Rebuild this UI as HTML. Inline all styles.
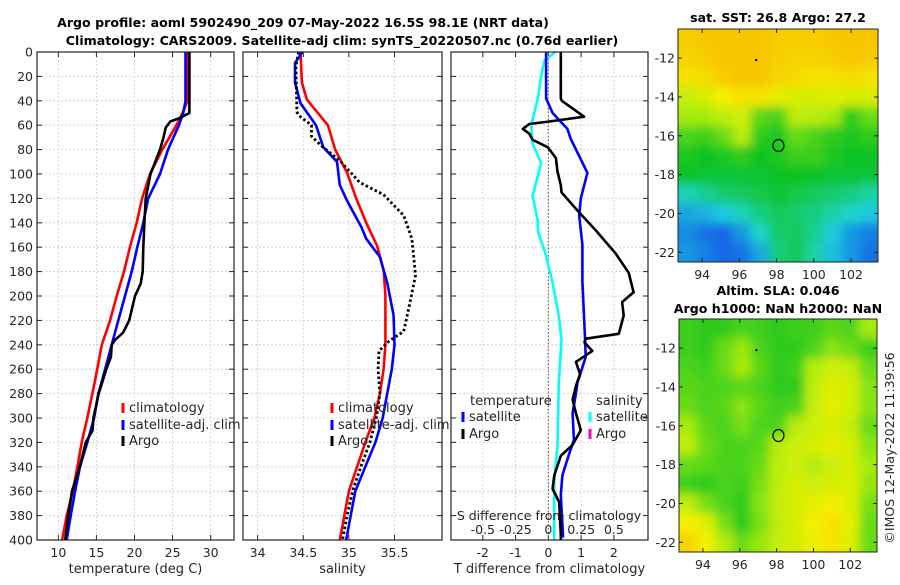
<!DOCTYPE html>
<html><head><meta charset="utf-8"><style>
body{margin:0;background:#fff;}
svg text{font-family:"DejaVu Sans","Liberation Sans",sans-serif;fill:#262626;}
.tk{font-size:12.5px;}
.ttl{font-size:12.6px;font-weight:bold;fill:#000;}
.lg{font-size:13px;}
</style></head><body>
<svg id="fig" xmlns="http://www.w3.org/2000/svg" width="900" height="580" viewBox="0 0 900 580">
<rect width="900" height="580" fill="#fff"/>
<text class="ttl" x="303" y="27" text-anchor="middle">Argo profile: aoml 5902490_209 07-May-2022 16.5S 98.1E (NRT data)</text>
<text class="ttl" x="342" y="45" text-anchor="middle">Climatology: CARS2009. Satellite-adj clim: synTS_20220507.nc (0.76d earlier)</text>
<text class="ttl" x="778" y="22" text-anchor="middle">sat. SST: 26.8 Argo: 27.2</text>
<text class="ttl" x="778" y="295" text-anchor="middle">Altim. SLA: 0.046</text>
<text class="ttl" x="778" y="313" text-anchor="middle">Argo h1000: NaN h2000: NaN</text>
<text class="tk" transform="translate(894,448) rotate(-90)" text-anchor="middle">©IMOS 12-May-2022 11:39:56</text>
<g id="g"></g>
</svg>
<script>
// ---------- data ----------
const tArgoDepth=[0,50,54,57,62,70,80,100,120,140,160,180,190,200,220,230,236,240,250,260,280,300,310,320,340,360,380,400];
const tArgoVal=[27.2,27.2,26.0,24.7,24.1,23.8,23.35,22.1,21.47,21.3,21.16,21.08,20.8,20.07,19.3,18.5,17.45,17.0,16.9,16.3,15.3,14.6,14.5,13.6,12.8,11.8,11.3,10.9];
const tClimDepth=[0,40,50,60,80,100,120,140,160,180,200,220,240,270,300,320,340,360,380,400];
const tClimVal=[26.98,26.97,26.3,25.5,23.65,22.03,21.0,20.29,19.4,18.62,17.66,16.79,15.7,14.8,13.8,13.07,12.5,11.9,11.1,10.5];
const tSatDepth=[0,40,50,60,70,80,100,120,140,160,180,200,220,240,270,280,300,320,340,360,380,400];
const tSatVal=[26.7,26.7,26.4,25.84,25.1,24.4,23.35,21.8,21.16,20.37,19.63,18.75,17.87,17.0,15.7,15.25,14.7,13.8,12.85,12.2,11.63,11.1];
const sClimDepth=[0,25,39,60,80,99,120,140,159,179,199,220,240,260,280,300,320,340,360,380,400];
const sClimVal=[34.47,34.485,34.54,34.77,34.85,34.98,35.08,35.19,35.31,35.38,35.40,35.40,35.40,35.38,35.34,35.28,35.18,35.09,35.0,34.95,34.9];
const sSatDepth=[0,9,25,42,60,78,90,109,122,144,153,168,189,216,240,260,280,300,320,340,360,380,400];
const sSatVal=[34.49,34.41,34.41,34.47,34.64,34.72,34.87,34.9,34.98,35.14,35.19,35.34,35.42,35.49,35.5,35.47,35.42,35.37,35.29,35.18,35.07,35.02,34.97];
const sArgoDepth=[0,11,49,52,60,69,77,89,107,117,134,153,183,205,229,237,245,260,280,300,320,340,360,380,400];
const sArgoVal=[34.45,34.42,34.43,34.45,34.59,34.59,34.7,34.9,35.12,35.38,35.6,35.69,35.73,35.67,35.6,35.44,35.33,35.32,35.34,35.3,35.23,35.13,35.04,34.98,34.93];
const dTArgoDepth=[0,38,40,53,57,59,63,67,72,78,87,98,109,115,130,146,165,181,197,205,216,231,235,238,245,254,264,273,285,296,310,322,331,347,358,369,396,400];
const dTArgoVal=[0.38,0.38,0.41,1.09,0.03,-0.58,-0.78,-0.58,-0.48,-0.02,0.23,0.28,0.38,0.4,0.89,1.44,2.05,2.45,2.6,2.25,2.3,2.15,1.14,1.1,1.34,0.84,0.97,0.85,0.74,0.84,0.99,0.74,0.38,0.18,0.13,0.33,0.38,0.38];
const dTSatDepth=[0,38,50,63,71,99,120,134,158,188,236,250,271,280,296,318,329,347,363,398];
const dTSatVal=[-0.07,-0.07,0.13,0.58,0.68,1.19,0.99,0.94,1.04,1.04,1.12,1.14,0.89,0.84,0.74,0.78,0.64,0.43,0.38,0.45];
const dSSatDepth=[0,7,20,38,60,75,91,118,139,147,166,188,216,236,271,323,350,400];
const dSSatVal=[0.053,-0.03,-0.055,-0.08,-0.13,-0.12,-0.055,-0.12,-0.08,-0.08,-0.02,0.03,0.08,0.1,0.08,0.07,0.045,0.045];
const sstGrid=[
[4.5,4.6,4.6,4.6,4.6,4.5,4.5,4.5,4.6,4.6,4.6],
[4.4,4.5,4.6,4.6,4.6,4.5,4.4,4.4,4.5,4.6,4.5],
[4.2,4.3,4.5,4.6,4.6,4.4,4.3,4.2,4.2,4.3,4.2],
[3.4,3.6,4.0,4.2,4.2,3.8,3.6,3.6,3.7,3.6,3.6],
[3.0,3.0,3.3,3.5,2.5,2.4,3.3,3.2,3.0,2.2,2.6],
[2.4,2.3,2.6,3.3,2.2,2.1,2.6,2.4,2.2,2.1,2.2],
[2.1,2.0,2.1,2.2,2.0,2.1,2.3,2.3,2.1,2.0,2.0],
[2.0,1.9,1.9,1.9,1.9,2.0,2.0,2.0,1.9,1.9,1.9],
[1.2,1.4,1.6,1.7,1.8,1.9,1.8,1.7,1.6,1.5,1.3],
[0.6,0.7,0.9,1.2,1.5,1.7,1.6,1.5,1.3,1.1,0.9],
[0.4,0.2,0.1,0.5,1.1,1.6,1.7,1.4,0.9,0.5,0.3],
[0.5,0.3,0.1,0.2,0.6,1.5,1.7,1.3,0.8,0.5,0.2]];
const slaGrid=[
[2.3,2.2,2.2,2.4,2.3,2.2,2.3,2.3,2.5,2.4,3.0],
[2.3,2.2,2.6,2.9,2.4,2.2,2.2,2.4,2.8,2.6,2.3],
[2.4,2.3,2.6,3.0,2.5,2.2,2.3,3.2,3.5,3.4,2.6],
[2.5,2.4,2.4,2.5,2.4,2.2,2.2,3.3,3.7,3.6,2.8],
[2.6,2.4,2.5,2.8,2.5,2.3,2.4,3.4,3.8,3.6,2.8],
[3.0,2.5,2.4,2.7,2.4,2.4,3.2,3.5,3.6,3.4,2.6],
[3.3,2.6,2.4,2.4,2.5,3.2,3.5,3.6,3.8,3.6,2.8],
[2.6,2.5,2.4,2.4,2.6,3.3,3.5,3.2,3.5,3.6,3.0],
[2.3,2.2,2.4,2.3,2.7,3.3,3.6,3.5,3.6,3.7,2.9],
[3.3,2.7,2.4,2.2,2.8,3.4,3.6,3.8,4.0,3.7,2.7],
[4.0,3.7,2.7,2.2,2.7,3.3,3.6,4.0,4.2,3.8,2.6],
[4.4,4.0,3.2,2.6,2.9,3.4,3.6,3.9,4.2,3.7,2.6]];
const argoLon=98.1, argoLat=-16.5;
const depthTicks=[0,20,40,60,80,100,120,140,160,180,200,220,240,260,280,300,320,340,360,380,400];
const tTicks=[10,15,20,25,30];
const sTicks=[34,34.5,35,35.5];
const dTTicks=[-2,-1,0,1,2];
const dSTicks=[-0.5,-0.25,0,0.25,0.5];
const dSTickLabels=["-0.5","-0.25","0","0.25","0.5"];
const lonTicks=[94,96,98,100,102];
const latTicks=[-12,-14,-16,-18,-20,-22];

// ---------- drawing ----------
const NS="http://www.w3.org/2000/svg";
const G=document.getElementById('g');
function el(tag,attrs,parent){const e=document.createElementNS(NS,tag);for(const k in attrs)e.setAttribute(k,attrs[k]);(parent||G).appendChild(e);return e;}
const Y0=52,Y1=540;
const yD=d=>Y0+(d/400)*(Y1-Y0);
function lin(d0,d1,p0,p1){return v=>p0+(v-d0)/(d1-d0)*(p1-p0);}

function panel(name,x0,x1,sx,xticks,xlabels,xtitle,showY){
  const g=el('g',{});
  
  
  depthTicks.forEach(d=>{
    const l=el('line',{x1:x0,x2:x1,y1:yD(d),y2:yD(d),stroke:'#c4c8e6','stroke-width':0.8,'stroke-dasharray':'2,2'},g);
    
    
    el('line',{x1:x0,x2:x0+5,y1:yD(d),y2:yD(d),stroke:'#222','stroke-width':1},g);
    el('line',{x1:x1-5,x2:x1,y1:yD(d),y2:yD(d),stroke:'#222','stroke-width':1},g);
    if(showY){const t=el('text',{x:x0-4,y:yD(d)+4.5,'text-anchor':'end',class:'tk'},g);t.textContent=d;
      
      }
  });
  xticks.forEach((v,i)=>{
    const x=sx(v);
    const l=el('line',{x1:x,x2:x,y1:Y0,y2:Y1,stroke:'#dccab8','stroke-width':0.8,'stroke-dasharray':'2,2'},g);
    
    
    el('line',{x1:x,x2:x,y1:Y1-5,y2:Y1,stroke:'#222'},g);
    el('line',{x1:x,x2:x,y1:Y0,y2:Y0+5,stroke:'#222'},g);
    const t=el('text',{x:x,y:557,'text-anchor':'middle',class:'tk'},g);t.textContent=xlabels[i];
    
    
  });
  const tt=el('text',{x:(x0+x1)/2,y:573,'text-anchor':'middle',class:'tk',style:'font-size:13px'},g);tt.textContent=xtitle;
  
  
  return g;
}
function border(x0,x1){const r=el('rect',{x:x0,y:Y0,width:x1-x0,height:Y1-Y0,fill:'none',stroke:'#222','stroke-width':1.2});
  
  }
function line(name,depths,vals,sx,color,w,dash){
  const pts=depths.map((d,i)=>sx(vals[i]).toFixed(1)+','+yD(d).toFixed(1)).join(' ');
  const a={points:pts,fill:'none',stroke:color,'stroke-width':w,'stroke-linejoin':'round'};
  if(dash)a['stroke-dasharray']=dash;
  const p=el('polyline',a);
  
  
}
function legendEntry(name,x,y,color,label){
  const g=el('g',{});
  
  
  el('line',{x1:x,x2:x,y1:y-9,y2:y+1,stroke:color,'stroke-width':3},g);
  const t=el('text',{x:x+6,y:y,class:'lg'},g);t.textContent=label;
}

const P1=[37,234];const sxT=lin(7.2,33.06,P1[0],P1[1]);
panel('temperature-panel',P1[0],P1[1],sxT,tTicks,tTicks.map(String),'temperature (deg C)',true);
line('temp-climatology-line',tClimDepth,tClimVal,sxT,'#ff0000',2.6);
line('temp-satellite-adj-line',tSatDepth,tSatVal,sxT,'#0000ff',2.6);
line('temp-argo-line',tArgoDepth,tArgoVal,sxT,'#000',2.6);
border(P1[0],P1[1]);
legendEntry('legend-climatology',123,412,'#ff0000','climatology');
legendEntry('legend-satellite-adj',123,429,'#0000ff','satellite-adj. clim');
legendEntry('legend-argo',123,445,'#000','Argo');

const P2=[243,442];const sxS=lin(33.84,36.02,P2[0],P2[1]);
panel('salinity-panel',P2[0],P2[1],sxS,sTicks,sTicks.map(String),'salinity',false);
line('sal-climatology-line',sClimDepth,sClimVal,sxS,'#ff0000',2.6);
line('sal-satellite-adj-line',sSatDepth,sSatVal,sxS,'#0000ff',2.6);
line('sal-argo-line',sArgoDepth,sArgoVal,sxS,'#000',2.8,'2.5,2.5');
border(P2[0],P2[1]);
legendEntry('legend-sal-climatology',332,412,'#ff0000','climatology');
legendEntry('legend-sal-satellite-adj',332,429,'#0000ff','satellite-adj. clim');
legendEntry('legend-sal-argo',332,445,'#000','Argo');

const P3=[451,648];const sxD=lin(-2.97,3.04,P3[0],P3[1]);
const sxDS=lin(-2.97/4,3.04/4,P3[0],P3[1]);
panel('difference-panel',P3[0],P3[1],sxD,dTTicks,dTTicks.map(String),'T difference from climatology',false);
const zl=el('line',{x1:sxD(0),x2:sxD(0),y1:Y0,y2:Y1,stroke:'#555533','stroke-width':1,'stroke-dasharray':'1.5,2'});


line('dsal-satellite-line',dSSatDepth,dSSatVal,sxDS,'#00ffff',2.6);
line('dtemp-satellite-line',dTSatDepth,dTSatVal,sxD,'#0000ff',2.6);
line('dtemp-argo-line',dTArgoDepth,dTArgoVal,sxD,'#000',2.6);
border(P3[0],P3[1]);
const st=el('text',{x:549,y:520,'text-anchor':'middle',class:'tk'});st.textContent='S difference from climatology';


dSTicks.forEach((v,i)=>{const t=el('text',{x:sxDS(v),y:534,'text-anchor':'middle',class:'tk'});t.textContent=dSTickLabels[i];
  
  });
const lt=el('text',{x:470,y:405,class:'lg'});lt.textContent='temperature';


legendEntry('legend-dtemp-satellite',463,421,'#0000ff','satellite');
legendEntry('legend-dtemp-argo',463,438,'#000','Argo');
const ls=el('text',{x:596,y:405,class:'lg'});ls.textContent='salinity';


legendEntry('legend-dsal-satellite',590,421,'#00ffff','satellite');
legendEntry('legend-dsal-argo',590,438,'#ff00cc','Argo');

const cStops=[[20,90,230],[30,215,220],[15,195,35],[165,235,15],[245,240,0],[248,170,0]];
function cmap(v){v=Math.max(0,Math.min(5,v));const i=Math.min(4,Math.floor(v)),f=v-i;const a=cStops[i],b=cStops[i+1];
  return 'rgb('+a.map((c,k)=>Math.round(c+(b[k]-c)*f)).join(',')+')';}
function mapPanel(name,grid,x0,x1,y0,y1,fid){
  const g=el('g',{});
  
  
  const lonL=92.7,lonR=103.45,latT=-10.5,latB=-22.5;
  const sx=lin(lonL,lonR,x0,x1),sy=lin(latT,latB,y0,y1);
  const cl=el('clipPath',{id:'cl'+fid},g);el('rect',{x:x0,y:y0,width:x1-x0,height:y1-y0},cl);
  const f=el('filter',{id:'f'+fid,x:'-10%',y:'-10%',width:'120%',height:'120%'},g);el('feGaussianBlur',{stdDeviation:5},f);
  const cg=el('g',{'clip-path':'url(#cl'+fid+')'},g);
  const ig=el('g',{filter:'url(#f'+fid+')'},cg);
  const nr=grid.length,nc=grid[0].length;
  const cw=(lonR-lonL)/nc;
  grid.forEach((row,r)=>row.forEach((v,c)=>{
    const xa=sx(lonL+c*cw),xb=sx(lonL+(c+1)*cw),ya=sy(latT-r),yb=sy(latT-r-1);
    const pad=(c===0?-12:0),padR=(c===nc-1?12:0),padT=(r===0?-12:0),padB=(r===nr-1?12:0);
    const rc=el('rect',{x:xa+pad,y:ya+padT,width:xb-xa-pad+padR+0.5,height:yb-ya-padT+padB+0.5,fill:cmap(v)},ig);
    
    
  }));
  el('rect',{x:x0,y:y0,width:x1-x0,height:y1-y0,fill:'none',stroke:'#222','stroke-width':1},g);
  lonTicks.forEach(v=>{const x=sx(v);el('line',{x1:x,x2:x,y1:y1-4,y2:y1,stroke:'#222'},g);el('line',{x1:x,x2:x,y1:y0,y2:y0+4,stroke:'#222'},g);
    const t=el('text',{x:x,y:y1+17,'text-anchor':'middle',class:'tk'},g);t.textContent=v;
    
    });
  latTicks.forEach(v=>{const y=sy(v);el('line',{x1:x0,x2:x0+4,y1:y,y2:y,stroke:'#222'},g);el('line',{x1:x1-4,x2:x1,y1:y,y2:y,stroke:'#222'},g);
    const t=el('text',{x:x0-3,y:y+4.5,'text-anchor':'end',class:'tk'},g);t.textContent=v;
    
    });
  const m=el('ellipse',{cx:sx(argoLon),cy:sy(argoLat),rx:5.5,ry:6,fill:'none',stroke:'#000','stroke-width':1.2},g);
  
  
  el('circle',{cx:sx(96.9),cy:sy(-12.1),r:1.2,fill:'#000'},g);
}
mapPanel('sst-map',sstGrid,678,878,29,262,1);
mapPanel('sla-map',slaGrid,679,877,319,552,2);
</script>
</body></html>
